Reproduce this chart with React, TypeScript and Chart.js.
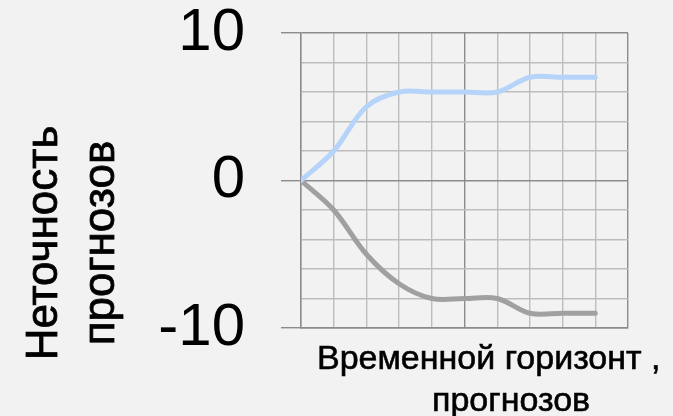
import React, { useEffect, useRef } from "react";
import { Chart, registerables } from "chart.js";

Chart.register(...registerables);

// ---- data ----
const horizon = [0, 1, 2, 3, 4, 5, 6, 7, 8, 9];
const upperSeries = [0, 2, 5, 6, 6, 6, 6, 7, 7, 7];
const lowerSeries = [0, -2, -5, -7, -8, -8, -8, -9, -9, -9];
const yTickLabels = [-10, 0, 10];
const yTitleLines = ["Неточность", "прогнозов"];
const xTitleLines = ["Временной горизонт ,", "прогнозов"];

const FONT = "'Liberation Sans', Arial, sans-serif";
const MAJOR = "#8c8c8c";
const MINOR = "#bdbdbd";

const titlePlugin = {
  id: "axisTitles",
  afterDraw(chart: any) {
    const ctx = chart.ctx;
    ctx.save();
    ctx.fillStyle = "#000";
    ctx.strokeStyle = "#000";
    ctx.lineWidth = 0.6;
    ctx.textBaseline = "alphabetic";
    // x title
    ctx.font = `34px ${FONT}`;
    ctx.textAlign = "left";
    ctx.fillText(xTitleLines[0], 317, 369);
    ctx.strokeText(xTitleLines[0], 317, 369);
    ctx.fillText(xTitleLines[1], 432, 411);
    ctx.strokeText(xTitleLines[1], 432, 411);
    // y title (rotated)
    ctx.font = `44px ${FONT}`;
    ctx.textAlign = "center";
    ctx.lineWidth = 0.8;
    const baselines = [57, 114];
    yTitleLines.forEach((line, i) => {
      ctx.save();
      ctx.translate(baselines[i], 243);
      ctx.rotate(-Math.PI / 2);
      ctx.fillText(line, 0, 0);
      ctx.strokeText(line, 0, 0);
      ctx.restore();
    });
    ctx.restore();
  },
};

export default function App() {
  const ref = useRef<HTMLCanvasElement>(null);

  useEffect(() => {
    if (!ref.current) return;
    const chart = new Chart(ref.current, {
      type: "line",
      data: {
        datasets: [
          {
            data: horizon.map((x, i) => ({ x, y: upperSeries[i] })),
            borderColor: "#b6d4fa",
            borderWidth: 5,
            pointRadius: 0,
            tension: 0.35,
            fill: false,
            borderCapStyle: "round",
            borderJoinStyle: "round",
          },
          {
            data: horizon.map((x, i) => ({ x, y: lowerSeries[i] })),
            borderColor: "#a0a0a0",
            borderWidth: 5,
            pointRadius: 0,
            tension: 0.35,
            fill: false,
            borderCapStyle: "round",
            borderJoinStyle: "round",
          },
        ],
      },
      options: {
        animation: false,
        responsive: false,
        devicePixelRatio: 1,
        layout: { padding: { top: 33, right: 45, bottom: 0, left: 0 } },
        plugins: {
          legend: { display: false },
          tooltip: { enabled: false },
        },
        scales: {
          x: {
            type: "linear",
            min: 0,
            max: 10,
            ticks: { stepSize: 1, display: false, autoSkip: false },
            grid: {
              drawTicks: false,
              lineWidth: 1.4,
              color: (c: any) => (c.tick && c.tick.value % 5 === 0 ? MAJOR : MINOR),
            },
            border: { display: true, color: MAJOR, width: 1.4 },
            afterFit: (s: any) => {
              s.height = 88;
              s.paddingLeft = 0;
              s.paddingRight = 0;
            },
          },
          y: {
            type: "linear",
            min: -10,
            max: 10,
            ticks: {
              stepSize: 2,
              autoSkip: false,
              padding: 36,
              color: "#000",
              font: { family: FONT, size: 60 },
              callback: (v: any) => (yTickLabels.includes(Number(v)) ? String(v) : ""),
            },
            grid: {
              lineWidth: 1.4,
              tickLength: 20,
              color: (c: any) => (c.tick && c.tick.value % 10 === 0 ? MAJOR : MINOR),
              tickColor: (c: any) =>
                c.tick && yTickLabels.includes(c.tick.value) ? MAJOR : "rgba(0,0,0,0)",
            },
            border: { display: true, color: MAJOR, width: 1.4 },
            afterFit: (s: any) => {
              s.width = 301;
              s.paddingTop = 0;
              s.paddingBottom = 0;
            },
          },
        },
      },
      plugins: [titlePlugin],
    });
    return () => chart.destroy();
  }, []);

  return (
    <div
      style={{
        position: "fixed",
        left: 0,
        top: 0,
        width: 673,
        height: 416,
        background: "#f2f2f2",
      }}
    >
      <canvas ref={ref} width={673} height={416} style={{ display: "block" }} />
    </div>
  );
}
